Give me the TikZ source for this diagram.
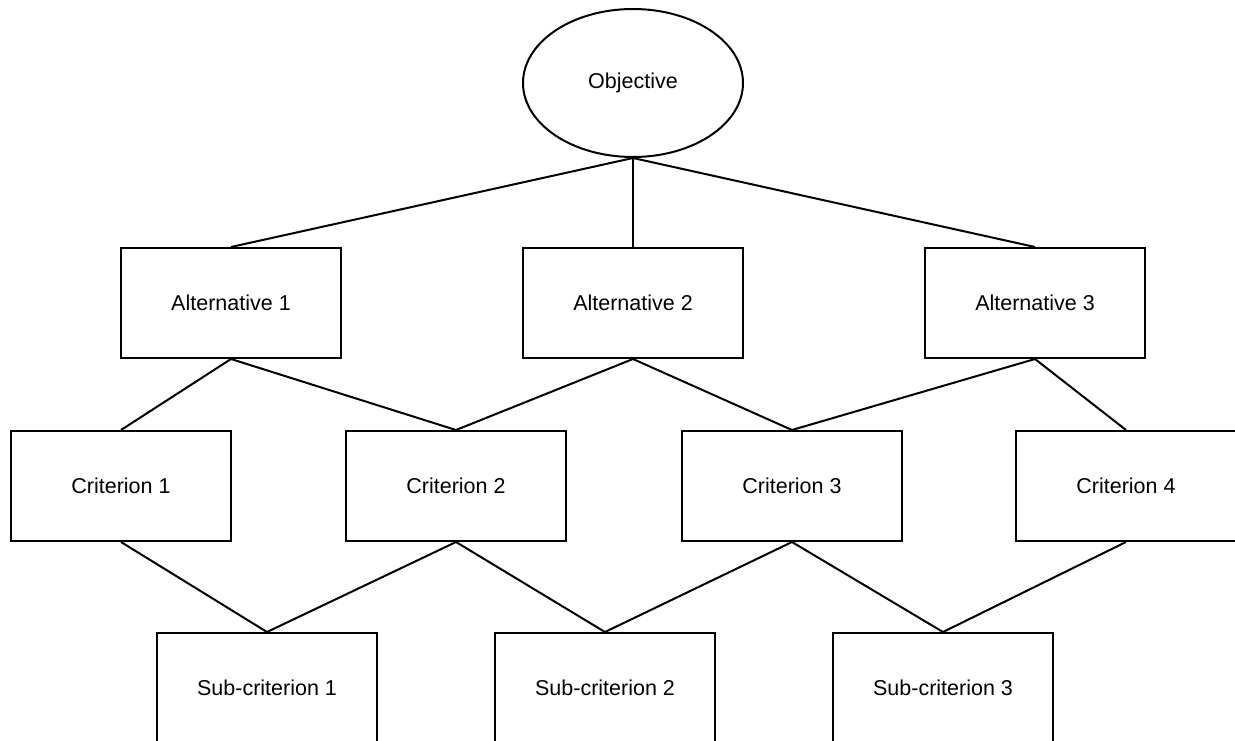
\documentclass[tikz,border=0pt]{standalone}
\usepackage{fontspec}
\setmainfont{Liberation Sans}
\usetikzlibrary{shapes.geometric}
\begin{document}
\begin{tikzpicture}[x=1pt,y=-1pt,
  every node/.style={font=\fontsize{21.5}{25}\selectfont, text=black},
  boxnode/.style={draw=black, line width=2pt, rectangle, minimum width=220pt, minimum height=110pt, inner sep=0pt},
  ellnode/.style={draw=black, line width=2pt, ellipse, minimum width=220pt, minimum height=148pt, inner sep=0pt},
  link/.style={draw=black, line width=2pt}]
\useasboundingbox (0,0) rectangle (1235,740);
\clip (0,0) rectangle (1235,740);
\node[ellnode] (obj) at (633,83) {Objective};
\node[boxnode] (a1) at (231,303) {Alternative 1};
\node[boxnode] (a2) at (633,303) {Alternative 2};
\node[boxnode] (a3) at (1035,303) {Alternative 3};
\node[boxnode] (c1) at (121,486) {Criterion 1};
\node[boxnode] (c2) at (456,486) {Criterion 2};
\node[boxnode] (c3) at (792,486) {Criterion 3};
\node[boxnode] (c4) at (1126,486) {Criterion 4};
\node[boxnode] (s1) at (267,688) {Sub-criterion 1};
\node[boxnode] (s2) at (605,688) {Sub-criterion 2};
\node[boxnode] (s3) at (943,688) {Sub-criterion 3};
\draw[link] (obj.south) -- (a1.north);
\draw[link] (obj.south) -- (a2.north);
\draw[link] (obj.south) -- (a3.north);
\draw[link] (a1.south) -- (c1.north);
\draw[link] (a1.south) -- (c2.north);
\draw[link] (a2.south) -- (c2.north);
\draw[link] (a2.south) -- (c3.north);
\draw[link] (a3.south) -- (c3.north);
\draw[link] (a3.south) -- (c4.north);
\draw[link] (c1.south) -- (s1.north);
\draw[link] (c2.south) -- (s1.north);
\draw[link] (c2.south) -- (s2.north);
\draw[link] (c3.south) -- (s2.north);
\draw[link] (c3.south) -- (s3.north);
\draw[link] (c4.south) -- (s3.north);
\end{tikzpicture}
\end{document}
